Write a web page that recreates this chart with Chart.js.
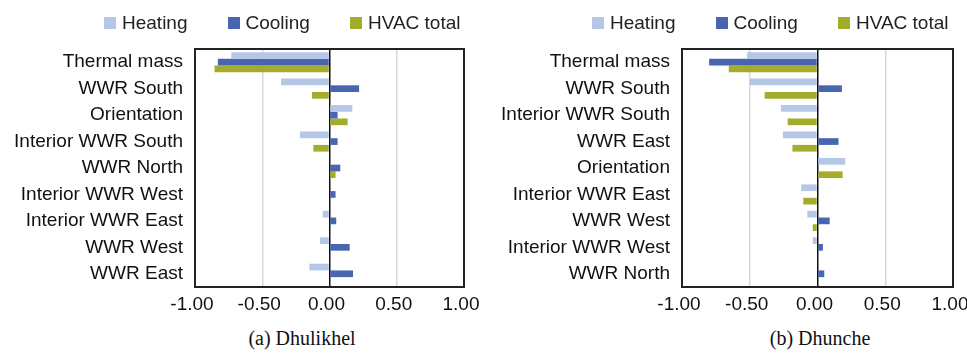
<!DOCTYPE html>
<html>
<head>
<meta charset="utf-8">
<script src="https://cdn.jsdelivr.net/npm/chart.js@4/dist/chart.umd.min.js"></script>
<style>
  body { margin: 0; background: #fff; width: 967px; height: 354px; position: relative; overflow: hidden; }
  canvas { position: absolute; top: 0; }
  #chartA { left: 0; }
  #chartB { left: 480px; }
  .legend { position: absolute; top: 12px; display: flex; align-items: center; white-space: nowrap;
            font: 19px "Liberation Sans", Arial, sans-serif; color: #222; }
  .legend span.box { width: 12px; height: 12px; display: inline-block; margin-right: 6px; flex-shrink: 0; }
  .legend .item { display: flex; align-items: center; margin-right: 40px; flex-shrink: 0; }
  .legend .item:last-child { margin-right: 0; }
  .caption { position: absolute; top: 327px; font: 20px "Liberation Serif", "DejaVu Serif", serif; color: #111;
             transform: translateX(-50%); white-space: nowrap; }
</style>
</head>
<body>
<canvas id="chartA" width="500" height="320"></canvas>
<canvas id="chartB" width="487" height="320"></canvas>
<div class="legend" id="legendA" style="left:104px"></div>
<div class="legend" id="legendB" style="left:592px"></div>
<div class="caption" style="left:302px">(a) Dhulikhel</div>
<div class="caption" style="left:820px">(b) Dhunche</div>
<script>
// series names and colours
const seriesNames = ['Heating', 'Cooling', 'HVAC total'];
const seriesColors = ['#b4c7e7', '#4766af', '#a4ad2b'];

// (a) Dhulikhel
const labelsA = ['Thermal mass', 'WWR South', 'Orientation', 'Interior WWR South', 'WWR North',
                 'Interior WWR West', 'Interior WWR East', 'WWR West', 'WWR East'];
const heatingA = [-0.73, -0.36, 0.17, -0.22, 0, 0, -0.05, -0.07, -0.15];
const coolingA = [-0.83, 0.22, 0.06, 0.06, 0.08, 0.045, 0.05, 0.15, 0.175];
const hvacA    = [-0.855, -0.13, 0.135, -0.12, 0.045, 0, 0, 0, 0];

// (b) Dhunche
const labelsB = ['Thermal mass', 'WWR South', 'Interior WWR South', 'WWR East', 'Orientation',
                 'Interior WWR East', 'WWR West', 'Interior WWR West', 'WWR North'];
const heatingB = [-0.52, -0.50, -0.27, -0.255, 0.205, -0.12, -0.075, -0.035, 0];
const coolingB = [-0.80, 0.18, 0, 0.155, 0, 0, 0.09, 0.04, 0.05];
const hvacB    = [-0.655, -0.39, -0.22, -0.185, 0.185, -0.105, -0.035, 0, 0];

const xTicks = [-1, -0.5, 0, 0.5, 1];

const FONT = { family: '"Liberation Sans", Arial, sans-serif', size: 19 };

// black frame round the plot area
const frame = {
    id: 'frame',
    afterDatasetsDraw(chart) {
        const { ctx, chartArea: a } = chart;
        ctx.save();
        ctx.strokeStyle = '#222';
        ctx.lineWidth = 2;
        ctx.strokeRect(a.left, a.top, a.right - a.left, a.bottom - a.top);
        ctx.restore();
    }
};

function buildLegend(id) {
    const el = document.getElementById(id);
    el.innerHTML = seriesNames.map((n, i) =>
        `<div class="item"><span class="box" style="background:${seriesColors[i]}"></span>${n}</div>`).join('');
}

function makeChart(canvasId, labels, series, axisWidth, padRight) {
    const ctx = document.getElementById(canvasId).getContext('2d');
    return new Chart(ctx, {
        type: 'bar',
        data: {
            labels: labels,
            datasets: series.map((d, i) => ({
                label: seriesNames[i],
                data: d,
                backgroundColor: seriesColors[i],
                borderWidth: 0,
                categoryPercentage: 0.76,
                barPercentage: 1.0
            }))
        },
        options: {
            indexAxis: 'y',
            responsive: false,
            animation: false,
            devicePixelRatio: 1,
            layout: { padding: { left: 0, top: 49, right: padRight, bottom: 0 } },
            plugins: { legend: { display: false }, tooltip: { enabled: false } },
            scales: {
                x: {
                    min: -1, max: 1,
                    afterBuildTicks: s => { s.ticks = xTicks.map(v => ({ value: v })); },
                    afterFit: s => { s.height = 33; s.paddingLeft = 0; s.paddingRight = 0; },
                    border: { display: false },
                    grid: {
                        drawTicks: false,
                        color: c => c.tick && c.tick.value === 0 ? '#111' : '#d9d9d9',
                        lineWidth: 1.5
                    },
                    ticks: {
                        padding: 6,
                        labelOffset: -3,
                        color: '#111',
                        font: FONT,
                        maxRotation: 0,
                        callback: v => Number(v).toFixed(2)
                    }
                },
                y: {
                    afterFit: s => { s.width = axisWidth; s.paddingTop = 0; s.paddingBottom = 0; },
                    border: { display: false },
                    grid: { display: false, drawTicks: false },
                    ticks: { padding: 12, color: '#111', font: FONT, autoSkip: false }
                }
            }
        },
        plugins: [frame]
    });
}

buildLegend('legendA');
buildLegend('legendB');
makeChart('chartA', labelsA, [heatingA, coolingA, hvacA], 195, 36);
makeChart('chartB', labelsB, [heatingB, coolingB, hvacB], 202, 14);
</script>
</body>
</html>
